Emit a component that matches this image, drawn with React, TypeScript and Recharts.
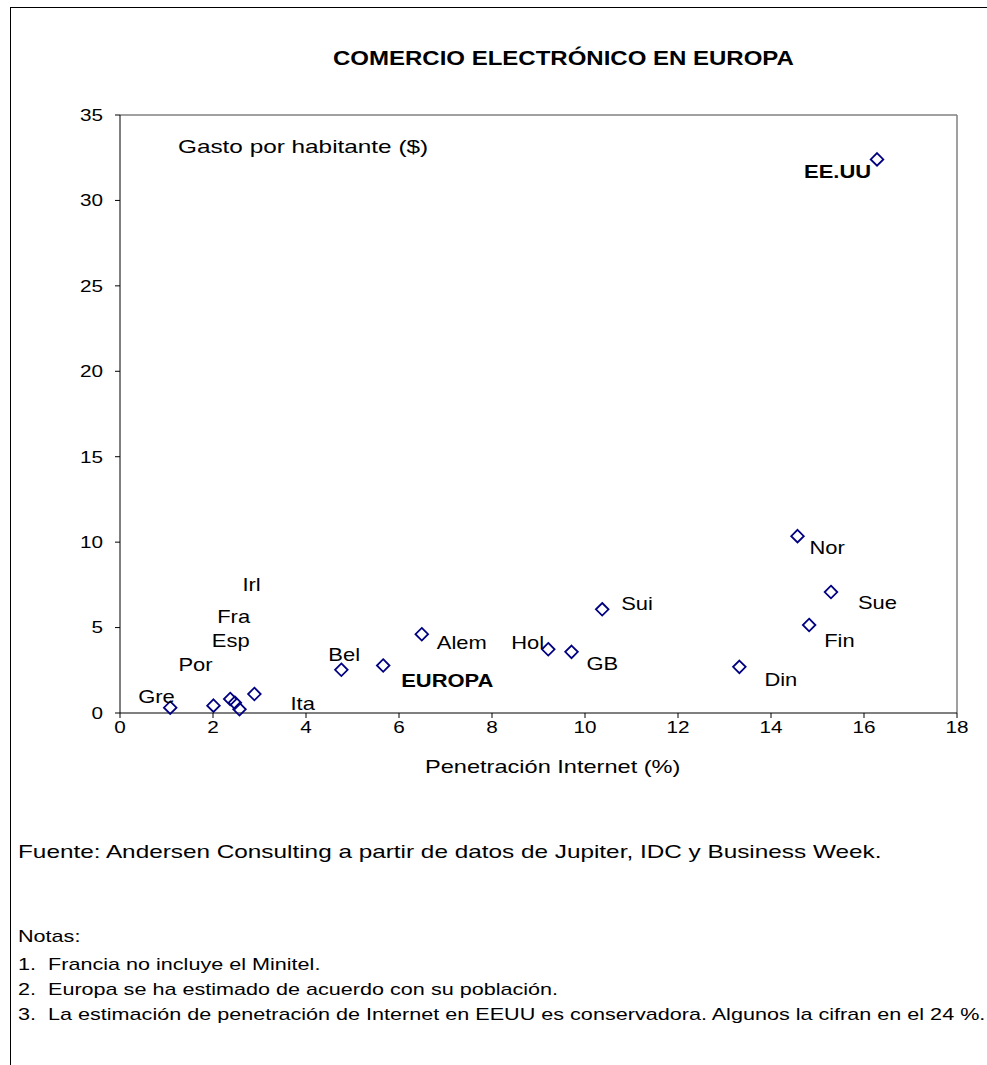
import { ScatterChart, Scatter, XAxis, YAxis, ReferenceLine } from 'recharts';

const countries = ['Gre', 'Por', 'Fra', 'Esp', 'Ita', 'Irl', 'Bel', 'EUROPA', 'Alem', 'Hol', 'GB', 'Sui', 'Din', 'Nor', 'Fin', 'Sue', 'EE.UU'];
const penetration = [1.08, 2.01, 2.37, 2.47, 2.57, 2.89, 4.76, 5.66, 6.49, 9.21, 9.71, 10.37, 13.32, 14.57, 14.82, 15.29, 16.28];
const spend = [0.31, 0.43, 0.82, 0.6, 0.22, 1.11, 2.53, 2.78, 4.61, 3.73, 3.58, 6.07, 2.7, 10.35, 5.15, 7.08, 32.4];

const xTicks = [0, 2, 4, 6, 8, 10, 12, 14, 16, 18];
const yTicks = [0, 5, 10, 15, 20, 25, 30, 35];

const notes = [
  '1.  Francia no incluye el Minitel.',
  '2.  Europa se ha estimado de acuerdo con su población.',
  '3.  La estimación de penetración de Internet en EEUU es conservadora. Algunos la cifran en el 24 %.',
];

// label placement relative to the marker (Excel labels were dragged by hand)
const labelOffset: Record<string, [number, number]> = {
  Gre: [-32, -11],
  Por: [-35, -41],
  Esp: [-23, -62],
  Fra: [-13, -82],
  Irl: [-12, -109],
  Ita: [51, -6],
  Bel: [-13, -15],
  EUROPA: [18, 15],
  Alem: [15, 8],
  Hol: [-37, -7],
  GB: [15, 12],
  Sui: [19, -6],
  Din: [25, 13],
  Nor: [12, 12],
  Sue: [27, 11],
  Fin: [15, 16],
  'EE.UU': [-73, 12],
};
const boldLabels = ['EUROPA', 'EE.UU'];

const data = countries.map((name, i) => ({ name, x: penetration[i], y: spend[i] }));

const font = '"Liberation Sans", Arial, sans-serif';
// the original text is drawn a bit wider than Arial
const stretch = 1.22;

function Diamond(props: any) {
  const { cx, cy, payload } = props;
  const r = 6.3;
  const [dx, dy] = labelOffset[payload.name] || [8, 0];
  const bold = boldLabels.includes(payload.name);
  return (
    <g>
      <polygon
        points={`${cx},${cy - r} ${cx + r},${cy} ${cx},${cy + r} ${cx - r},${cy}`}
        fill="none"
        stroke="#000080"
        strokeWidth={1.8}
      />
      <text
        transform={`translate(${cx + dx},${cy + dy}) scale(${stretch},1)`}
        dominantBaseline="central"
        fontFamily={font}
        fontSize={18}
        fontWeight={bold ? 'bold' : 'normal'}
        fill="#000"
      >
        {payload.name}
      </text>
    </g>
  );
}

function XTick(props: any) {
  const { x, y, payload } = props;
  return (
    <text transform={`translate(${x},${y}) scale(${stretch},1)`} dy="0.71em" textAnchor="middle" fontFamily={font} fontSize={17} fill="#000">
      {payload.value}
    </text>
  );
}

function YTick(props: any) {
  const { x, y, payload } = props;
  return (
    <text transform={`translate(${x},${y}) scale(${stretch},1)`} dominantBaseline="central" textAnchor="end" fontFamily={font} fontSize={17} fill="#000">
      {payload.value}
    </text>
  );
}

function Txt({ left, top, size, scale, bold, children }: any) {
  return (
    <div
      style={{
        position: 'absolute',
        left,
        top,
        fontSize: size,
        fontWeight: bold ? 'bold' : 'normal',
        whiteSpace: 'pre',
        transform: `scaleX(${scale})`,
        transformOrigin: 'left top',
      }}
    >
      {children}
    </div>
  );
}

export default function App() {
  return (
    <div style={{ position: 'absolute', left: 0, top: 0, width: 987, height: 1065, overflow: 'hidden', background: '#fff', fontFamily: font, color: '#000' }}>
      <div style={{ position: 'absolute', left: 10, top: 7, width: 1000, height: 1100, borderLeft: '1px solid #000', borderTop: '1px solid #000' }} />
      <Txt left={333} top={47} size={20} scale={1.2} bold>
        COMERCIO ELECTRÓNICO EN EUROPA
      </Txt>
      <div style={{ position: 'absolute', left: 0, top: 0 }}>
        <ScatterChart width={987} height={800} margin={{ top: 115, right: 30, bottom: 57, left: 60 }}>
          <XAxis
            type="number"
            dataKey="x"
            domain={[0, 18]}
            ticks={xTicks}
            interval={0}
            axisLine={{ stroke: '#000' }}
            tickLine={{ stroke: '#000' }}
            tickSize={5}
            tickMargin={3}
            height={30}
            tick={<XTick />}
          />
          <YAxis
            type="number"
            dataKey="y"
            domain={[0, 35]}
            ticks={yTicks}
            interval={0}
            axisLine={{ stroke: '#000' }}
            tickLine={{ stroke: '#000' }}
            tickSize={5}
            tickMargin={12}
            width={60}
            tick={<YTick />}
          />
          <ReferenceLine y={35} stroke="#808080" strokeWidth={1.5} />
          <ReferenceLine x={18} stroke="#808080" strokeWidth={1.5} />
          <Scatter data={data} shape={Diamond} isAnimationActive={false} />
        </ScatterChart>
      </div>
      <Txt left={178} top={136} size={19} scale={1.28}>Gasto por habitante ($)</Txt>
      <Txt left={425} top={756} size={19} scale={1.24}>Penetración Internet (%)</Txt>
      <Txt left={18} top={841} size={19} scale={1.28}>
        Fuente: Andersen Consulting a partir de datos de Jupiter, IDC y Business Week.
      </Txt>
      <Txt left={18} top={927} size={17} scale={1.27}>Notas:</Txt>
      {notes.map((n, i) => (
        <Txt key={i} left={18} top={955 + i * 25} size={17} scale={1.27}>
          {n}
        </Txt>
      ))}
    </div>
  );
}
